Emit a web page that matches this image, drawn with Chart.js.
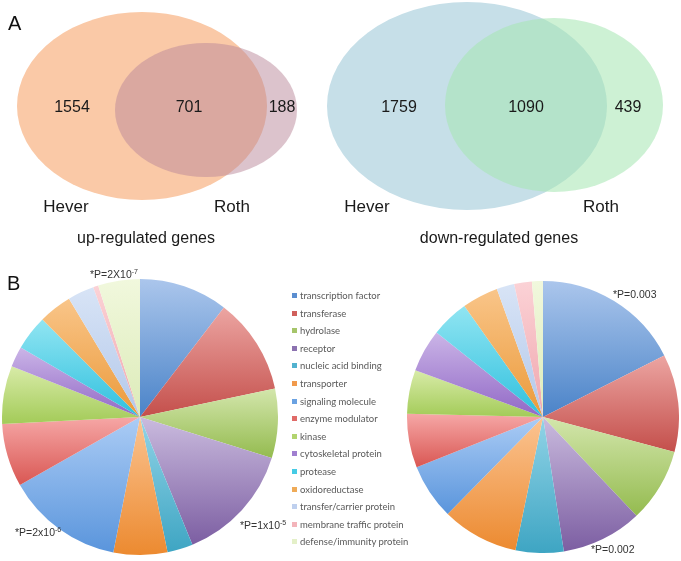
<!DOCTYPE html>
<html>
<head>
<meta charset="utf-8">
<script src="https://cdn.jsdelivr.net/npm/chart.js@4.4.1/dist/chart.umd.min.js"></script>
<style>
  body { margin: 0; background: #fff; width: 681px; height: 561px; position: relative; overflow: hidden; font-family: "Liberation Sans", Arial, sans-serif; }
  canvas { position: absolute; }
  #venn { left: 0; top: 0; }
  #pieUp { left: 2px; top: 279px; }
  #pieDown { left: 407px; top: 281px; }
  .tag { position: absolute; font-size: 10.5px; color: #333; white-space: nowrap; line-height: 12px; }
  .tag sup { font-size: 7px; vertical-align: 4px; line-height: 0; }
  .big { position: absolute; font-size: 20px; color: #111; line-height: 20px; }
  #legend { position: absolute; left: 292px; top: 287px; font-family: Lato, sans-serif; font-size: 9.5px; color: #595959; }
  #legend div { height: 17.6px; line-height: 17.6px; white-space: nowrap; }
  #legend span { display: inline-block; width: 5px; height: 5px; margin-right: 3px; vertical-align: 1px; }
</style>
</head>
<body>
<canvas id="venn" width="681" height="262"></canvas>
<canvas id="pieUp" width="276" height="276"></canvas>
<canvas id="pieDown" width="272" height="272"></canvas>
<div class="big" style="left:8px;top:13px">A</div>
<div class="big" style="left:7px;top:273px">B</div>
<div class="tag" style="left:90px;top:268px">*P=2X10<sup>-7</sup></div>
<div class="tag" style="left:15px;top:526px">*P=2x10<sup>-6</sup></div>
<div class="tag" style="left:240px;top:519px">*P=1x10<sup>-5</sup></div>
<div class="tag" style="left:613px;top:288px">*P=0.003</div>
<div class="tag" style="left:591px;top:543px">*P=0.002</div>
<div id="legend"></div>
<script>
// Venn counts: [Hever only, both, Roth only]
const vennSets = ["Hever", "Roth"];
const upCounts = [1554, 701, 188];
const downCounts = [1759, 1090, 439];
const vennTitles = ["up-regulated genes", "down-regulated genes"];

// protein classes, share of genes (%)
const categories = [
  "transcription factor", "transferase", "hydrolase", "receptor", "nucleic acid binding",
  "transporter", "signaling molecule", "enzyme modulator", "kinase", "cytoskeletal protein",
  "protease", "oxidoreductase", "transfer/carrier protein", "membrane traffic protein", "defense/immunity protein"
];
const upShares = [10.4, 11.3, 8.1, 14.0, 3.0, 6.3, 13.7, 7.4, 6.8, 2.4, 4.1, 3.9, 3.1, 0.6, 4.9];
const downShares = [17.5, 11.6, 8.8, 9.6, 5.7, 9.1, 6.6, 6.4, 5.2, 5.1, 4.5, 4.3, 2.1, 2.1, 1.3];

const lights = ["#abc6ec", "#eca5a2", "#d3e6ac", "#cabbde", "#92d4e7", "#fbc492", "#abccf5", "#f6a7a6",
  "#d8eba8", "#cbb5e7", "#91e5f2", "#f9c589", "#d8e4f6", "#fbd2d6", "#f1f8dd"];
const darks = ["#4a83c8", "#c44f4b", "#94bb4f", "#7c5ea2", "#3ea5c3", "#ec8a30", "#5a95dc", "#d95753",
  "#a3cb58", "#9168c6", "#2fc0de", "#eb9a3a", "#b3c8ea", "#f0a6ad", "#dcebb8"];
const mids = ["#5b8ed0", "#d0605c", "#a6c56a", "#8c72b0", "#52b2cf", "#f19a4c", "#6aa2e2", "#e06b68",
  "#b2d46f", "#a07fd0", "#45cbe5", "#efab58", "#bfd0ee", "#f3b4ba", "#e4f0c8"];

// where things sit in the top panel (pixel units of the hidden scales)
const vennLayout = [
  { ells: [[142, 106, 125, 94, "#fac9a7"], [206, 110, 91, 67, "rgba(185,135,153,0.5)"]],
    numX: [72, 189, 282], setX: [66, 232], titleX: 146 },
  { ells: [[467, 106, 140, 104, "#c6dfe8"], [554, 105, 109, 87, "rgba(166,230,178,0.56)"]],
    numX: [399, 526, 628], setX: [367, 601], titleX: 499 }
];

const vennPlugin = {
  id: "venn",
  afterDatasetsDraw(chart) {
    const ctx = chart.ctx, sx = chart.scales.x, sy = chart.scales.y;
    const counts = [upCounts, downCounts];
    vennLayout.forEach((v, p) => {
      v.ells.forEach(([cx, cy, rx, ry, col]) => {
        const px = sx.getPixelForValue(cx), py = sy.getPixelForValue(cy);
        ctx.beginPath();
        ctx.ellipse(px, py, Math.abs(sx.getPixelForValue(cx + rx) - px), Math.abs(sy.getPixelForValue(cy + ry) - py), 0, 0, Math.PI * 2);
        ctx.fillStyle = col;
        ctx.fill();
      });
      ctx.fillStyle = "#1a1a1a";
      ctx.textAlign = "center";
      ctx.textBaseline = "middle";
      ctx.font = '16px "Liberation Sans", Arial, sans-serif';
      counts[p].forEach((n, i) => ctx.fillText(String(n), sx.getPixelForValue(v.numX[i]), sy.getPixelForValue(108)));
      ctx.font = '17px "Liberation Sans", Arial, sans-serif';
      vennSets.forEach((s, i) => ctx.fillText(s, sx.getPixelForValue(v.setX[i]), sy.getPixelForValue(207)));
      ctx.font = '16px "Liberation Sans", Arial, sans-serif';
      ctx.fillText(vennTitles[p], sx.getPixelForValue(v.titleX), sy.getPixelForValue(239));
    });
  }
};

new Chart(document.getElementById("venn"), {
  type: "scatter",
  data: { datasets: [{ data: [] }] },
  options: {
    responsive: false, animation: false, events: [],
    layout: { padding: 0 },
    plugins: { legend: { display: false }, tooltip: { enabled: false } },
    scales: {
      x: { type: "linear", min: 0, max: 681, display: false },
      y: { type: "linear", min: 0, max: 262, reverse: true, display: false }
    }
  },
  plugins: [vennPlugin]
});

function sliceFill(c, shares) {
  const i = c.dataIndex, chart = c.chart, area = chart.chartArea;
  if (!area) return mids[i];
  const cx = (area.left + area.right) / 2, cy = (area.top + area.bottom) / 2;
  const r = Math.min(area.right - area.left, area.bottom - area.top) / 2;
  const total = shares.reduce((a, b) => a + b, 0);
  let a0 = -Math.PI / 2;
  for (let k = 0; k < i; k++) a0 += shares[k] / total * Math.PI * 2;
  const a1 = a0 + shares[i] / total * Math.PI * 2;
  const ys = [cy, cy + r * Math.sin(a0), cy + r * Math.sin(a1)];
  [Math.PI / 2, Math.PI * 1.5].forEach(t => { if (t > a0 && t < a1) ys.push(cy + r * Math.sin(t)); });
  const g = chart.ctx.createLinearGradient(0, Math.min(...ys), 0, Math.max(...ys));
  g.addColorStop(0, lights[i]);
  g.addColorStop(1, darks[i]);
  return g;
}

function makePie(id, shares) {
  new Chart(document.getElementById(id), {
    type: "pie",
    data: {
      labels: categories,
      datasets: [{ data: shares, borderWidth: 0, backgroundColor: c => sliceFill(c, shares) }]
    },
    options: {
      responsive: false, animation: false, events: [],
      layout: { padding: 0 },
      plugins: { legend: { display: false }, tooltip: { enabled: false } }
    }
  });
}
makePie("pieUp", upShares);
makePie("pieDown", downShares);

const legend = document.getElementById("legend");
categories.forEach((name, i) => {
  const row = document.createElement("div");
  row.innerHTML = `<span style="background:${mids[i]}"></span>${name}`;
  legend.appendChild(row);
});
</script>
</body>
</html>
